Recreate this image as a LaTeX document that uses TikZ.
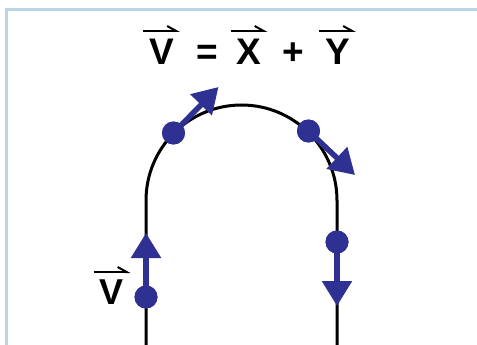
\documentclass[tikz,border=0pt]{standalone}
\usepackage{fontspec}
\setmainfont{Liberation Sans}
\usetikzlibrary{arrows.meta,calc}
\definecolor{vecblue}{RGB}{46,49,146}
\definecolor{framebl}{RGB}{185,213,230}
\tikzset{
  track/.style={line width=3pt,black},
  vec/.style={line width=5.5pt,vecblue,-{Triangle[length=25pt,width=29pt]},shorten >=0pt},
  dot/.style={circle,fill=vecblue,inner sep=0pt,minimum size=23pt},
  bigsym/.style={anchor=base,inner sep=0pt,font=\fontsize{37}{42}\selectfont\bfseries},
  smallsym/.style={anchor=base,inner sep=0pt,font=\fontsize{36}{40}\selectfont\bfseries},
  overarr/.style={line width=2.5pt,black,-{Straight Barb[harpoon,length=9pt,width=10pt,line width=2pt]}},
  framel/.style={line width=3pt,framebl}
}
\begin{document}
\begin{tikzpicture}[x=1pt,y=-1pt]
\useasboundingbox (0,0) rectangle (477,345);
% frame
\draw[framel] (6.5,345) -- (6.5,9.3) -- (477,9.3);
% track
\coordinate (bl) at (146,345);
\coordinate (al) at (146,200.5);
\coordinate (br) at (337,345);
\draw[track] (bl) -- (al) arc[start angle=180,end angle=0,radius=95.5pt] -- (br);
% dots and arrows
\node[dot] (d1) at (173.5,133) {};
\node[dot] (d2) at (308.5,131) {};
\node[dot] (d3) at (146,297) {};
\node[dot] (d4) at (337,242) {};
\coordinate (t1) at (218.5,87);
\coordinate (t2) at (355,175);
\coordinate (t3) at (146,233);
\coordinate (t4) at (337,306);
\draw[vec] (d1.center) -- (t1);
\draw[vec] (d2.center) -- (t2);
\draw[vec] (d3.center) -- (t3);
\draw[vec] (d4.center) -- (t4);
\node[dot] at (d1) {};
\node[dot] at (d2) {};
\node[dot] at (d3) {};
\node[dot] at (d4) {};
% title
\node[bigsym] (tV) at (161.5,65) {V};
\node[bigsym] (teq) at (207,65) {=};
\node[bigsym] (tX) at (249,65) {X};
\node[bigsym] (tplus) at (293,65) {+};
\node[bigsym] (tY) at (337.5,65) {Y};
\draw[overarr] ($(tV.base)+(-18.5,-34)$) -- ($(tV.base)+(18.5,-34)$);
\draw[overarr] ($(tX.base)+(-18.5,-34)$) -- ($(tX.base)+(18.5,-34)$);
\draw[overarr] ($(tY.base)+(-18.5,-34)$) -- ($(tY.base)+(18.5,-34)$);
% left label
\node[smallsym] (lV) at (112,304) {V};
\draw[overarr] ($(lV.base)+(-18.5,-32)$) -- ($(lV.base)+(18.5,-32)$);
\end{tikzpicture}
\end{document}
